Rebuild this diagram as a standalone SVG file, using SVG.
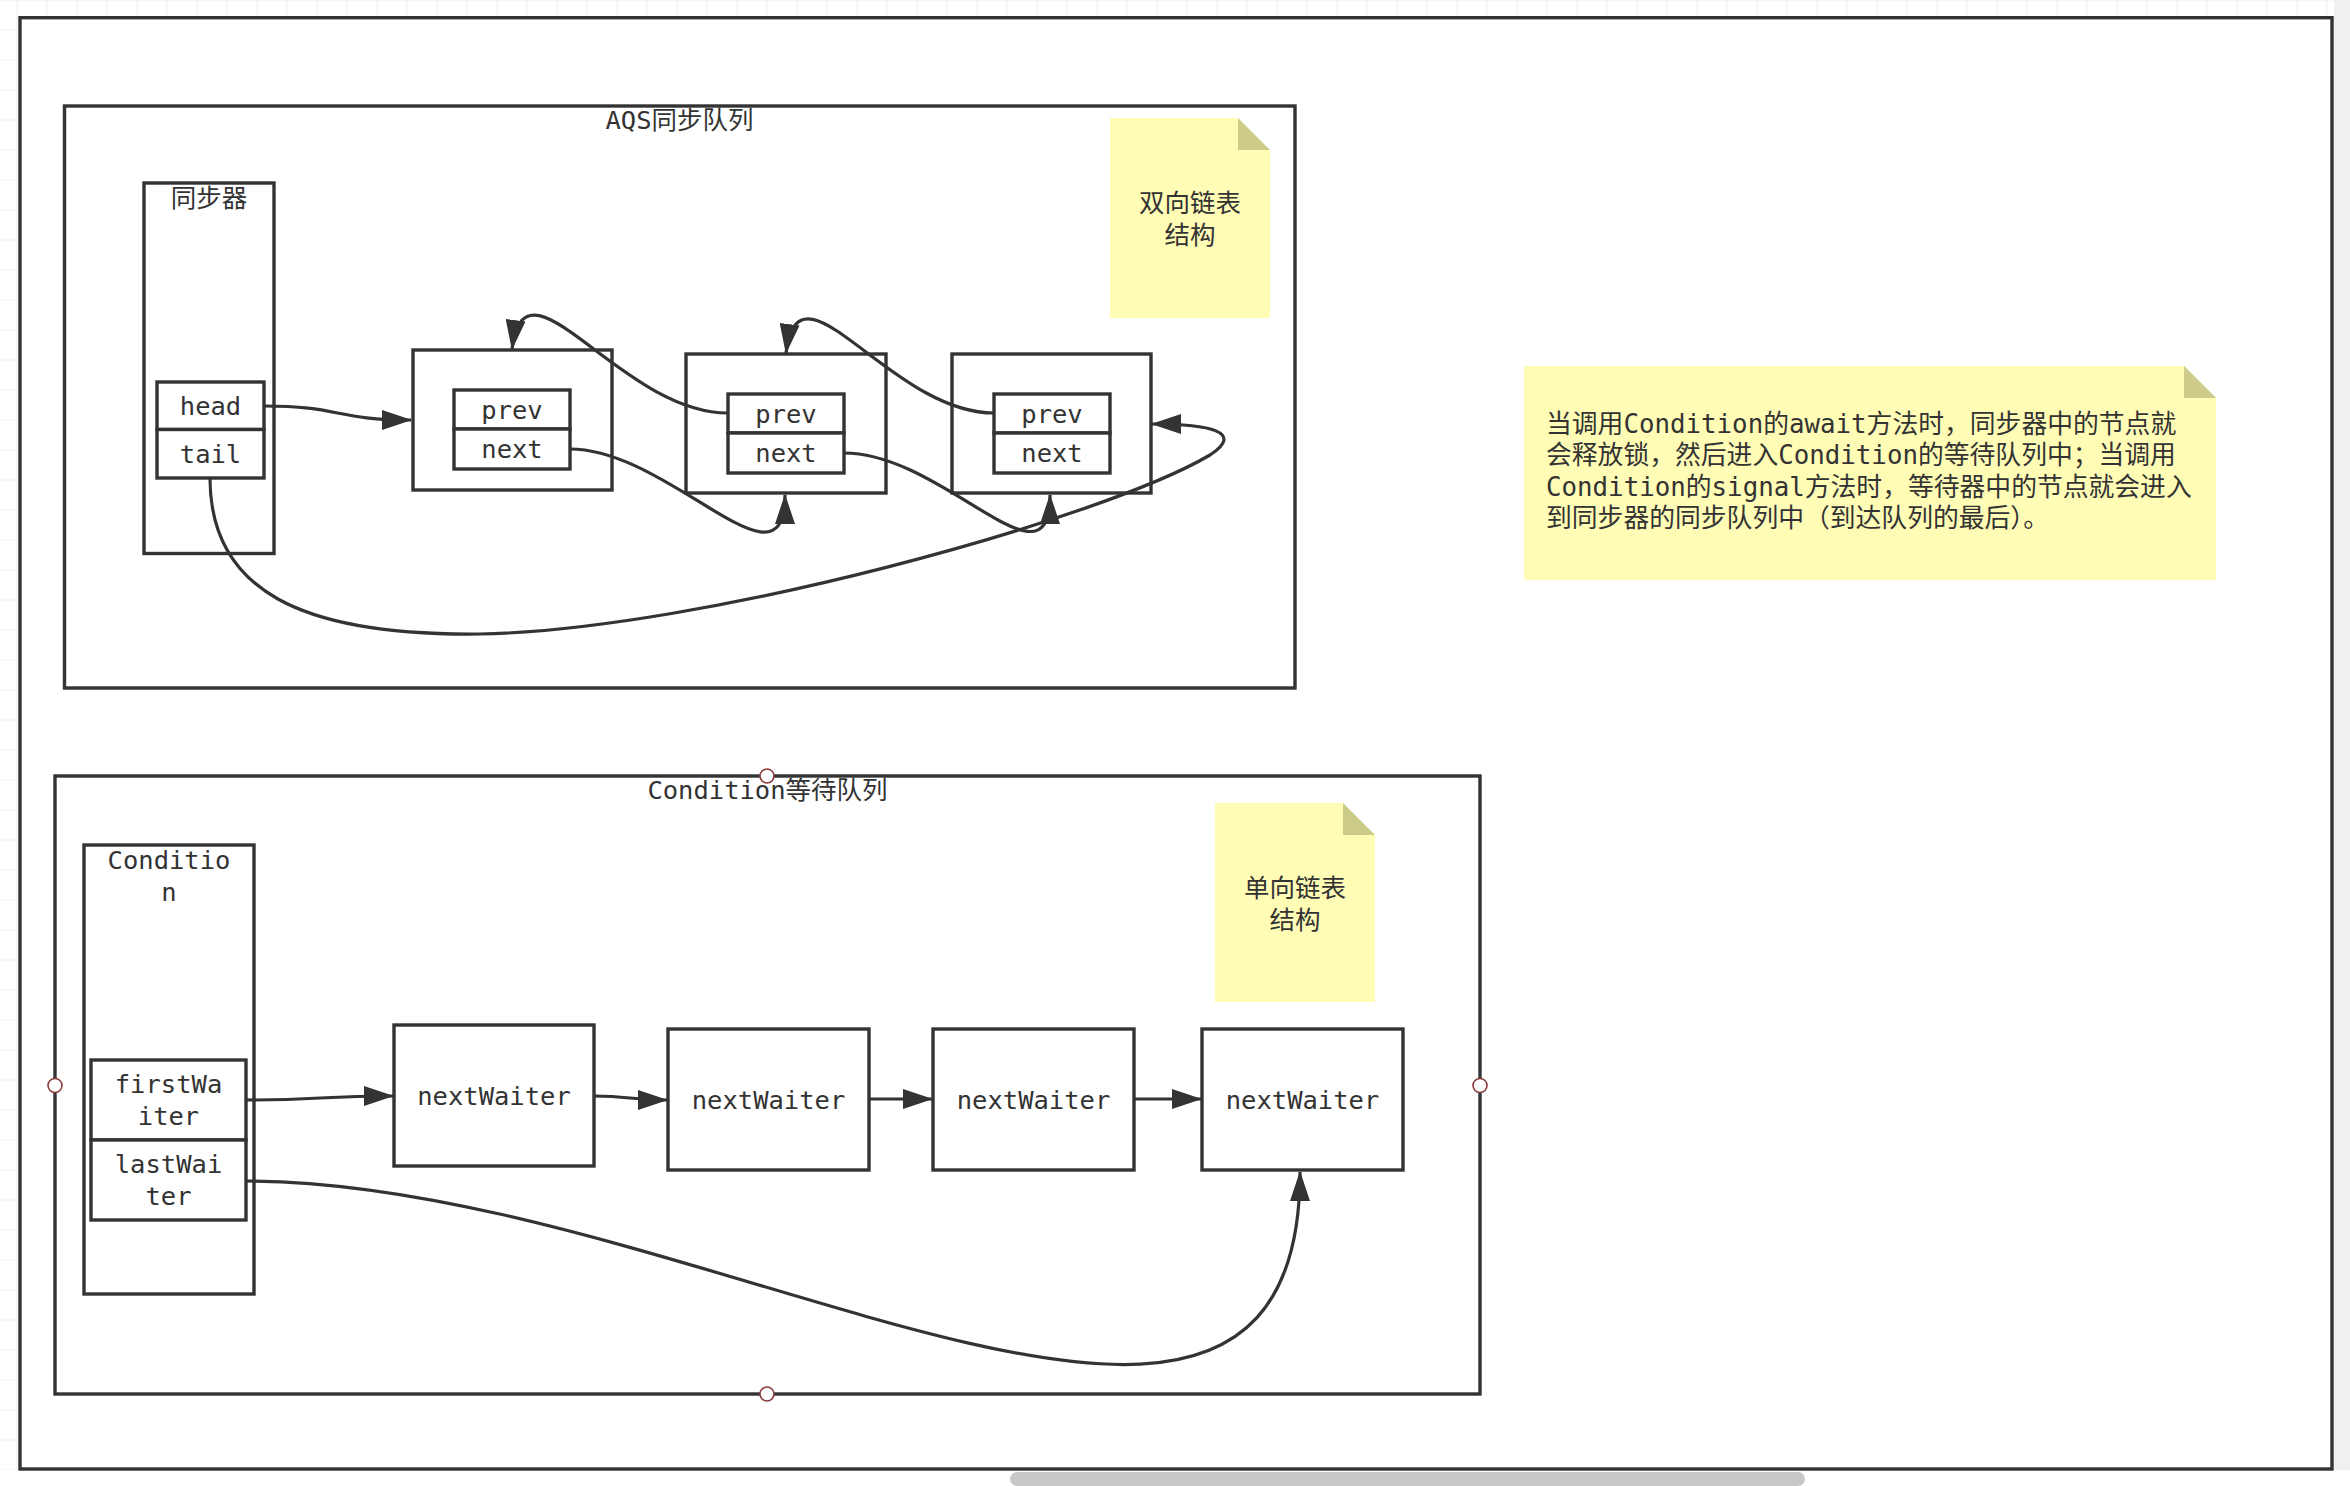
<svg xmlns="http://www.w3.org/2000/svg" width="2350" height="1486" viewBox="0 0 2350 1486">
<style>
.box{fill:#ffffff;stroke:#333333;stroke-width:3.4}
.frame{fill:none;stroke:#333333;stroke-width:3.4}
.t{font-family:"DejaVu Sans Mono","Noto Sans CJK SC",monospace;font-size:25.5px;fill:#333333}
.nt{font-size:25.8px}
.c{text-anchor:middle}
.note{fill:#fffcb6}
.fold{fill:#cccb89}
.conn{fill:none;stroke:#333333;stroke-width:3.2}
.handle{fill:#ffffff;stroke:#8b3a3a;stroke-width:1.6}
</style>
<defs>
<pattern id="grid" patternUnits="userSpaceOnUse" x="16.5" y="29.5" width="30" height="30">
<path d="M0,0 L30,0 M0,0 L0,30" stroke="#eeeeee" stroke-width="2" fill="none"/>
</pattern>
<marker id="arr" markerUnits="userSpaceOnUse" viewBox="0 0 30 20" markerWidth="30" markerHeight="20" refX="29" refY="10" orient="auto">
<path d="M0,0 L30,10 L0,20 Z" fill="#333333"/>
</marker>
</defs>
<rect x="0" y="0" width="2350" height="1486" fill="#ffffff"/>
<rect x="0" y="0" width="2334" height="1470" fill="url(#grid)"/>
<rect x="2334" y="0" width="16" height="1470" fill="#f0f0f0"/>
<rect x="1010" y="1472" width="795" height="14" rx="7" fill="#c8c8c8"/>

<g id="canvas-frame">
<rect x="20" y="17.7" width="2312" height="1451.3" fill="#ffffff" stroke="#333333" stroke-width="3.4"/>
</g>

<g id="aqs-queue">
<rect class="frame" x="64.5" y="106" width="1230.5" height="582"/>
<text class="t c" x="679.5" y="129">AQS同步队列</text>
</g>

<g id="synchronizer">
<rect class="box" x="144" y="183" width="130" height="370.5"/>
<text class="t c" x="209" y="206.5">同步器</text>
</g>
<g id="head">
<rect class="box" x="157" y="382" width="107" height="47.5"/>
<text class="t c" x="210.5" y="415">head</text>
</g>
<g id="tail">
<rect class="box" x="157" y="429.5" width="107" height="48.5"/>
<text class="t c" x="210.5" y="463">tail</text>
</g>

<g id="node1">
<rect class="box" x="413" y="350" width="199" height="140"/>
<rect class="box" x="454" y="390" width="116" height="39"/>
<text class="t c" x="512" y="418.5">prev</text>
<rect class="box" x="454" y="429" width="116" height="40"/>
<text class="t c" x="512" y="458">next</text>
</g>
<g id="node2">
<rect class="box" x="686" y="354" width="200" height="139"/>
<rect class="box" x="728" y="394" width="116" height="39"/>
<text class="t c" x="786" y="422.5">prev</text>
<rect class="box" x="728" y="433" width="116" height="40"/>
<text class="t c" x="786" y="462">next</text>
</g>
<g id="node3">
<rect class="box" x="952" y="354" width="199" height="139"/>
<rect class="box" x="994" y="394" width="116" height="39"/>
<text class="t c" x="1052" y="422.5">prev</text>
<rect class="box" x="994" y="433" width="116" height="40"/>
<text class="t c" x="1052" y="462">next</text>
</g>

<g id="note-doubly">
<path class="note" d="M1110,118 L1238,118 L1270,150 L1270,318 L1110,318 Z"/>
<path class="fold" d="M1238,118 L1238,150 L1270,150 Z"/>
<text class="t c" x="1190" y="212">双向链表</text>
<text class="t c" x="1190" y="243.5">结构</text>
</g>

<g id="note-explain">
<path class="note" d="M1524,366 L2184,366 L2216,398 L2216,580 L1524,580 Z"/>
<path class="fold" d="M2184,366 L2184,398 L2216,398 Z"/>
<text class="t nt" x="1546" y="432.5">当调用Condition的await方法时，同步器中的节点就</text>
<text class="t nt" x="1546" y="464">会释放锁，然后进入Condition的等待队列中；当调用</text>
<text class="t nt" x="1546" y="495.5">Condition的signal方法时，等待器中的节点就会进入</text>
<text class="t nt" x="1546" y="527">到同步器的同步队列中（到达队列的最后）。</text>
</g>

<g id="condition-queue">
<rect class="frame" x="55" y="776" width="1425" height="618"/>
<text class="t c" x="767.5" y="799">Condition等待队列</text>
</g>

<g id="note-singly">
<path class="note" d="M1215,803 L1343,803 L1375,835 L1375,1002 L1215,1002 Z"/>
<path class="fold" d="M1343,803 L1343,835 L1375,835 Z"/>
<text class="t c" x="1295" y="897">单向链表</text>
<text class="t c" x="1295" y="928.5">结构</text>
</g>

<g id="condition">
<rect class="box" x="84" y="845" width="170" height="449"/>
<text class="t c" x="169" y="869">Conditio</text>
<text class="t c" x="169" y="900.5">n</text>
</g>
<g id="firstWaiter">
<rect class="box" x="91" y="1060" width="155" height="80"/>
<text class="t c" x="168.5" y="1093">firstWa</text>
<text class="t c" x="168.5" y="1124.5">iter</text>
</g>
<g id="lastWaiter">
<rect class="box" x="91" y="1140" width="155" height="80"/>
<text class="t c" x="168.5" y="1173">lastWai</text>
<text class="t c" x="168.5" y="1204.5">ter</text>
</g>

<g id="waiter1">
<rect class="box" x="394" y="1025" width="200" height="141"/>
<text class="t c" x="494" y="1104.5">nextWaiter</text>
</g>
<g id="waiter2">
<rect class="box" x="668" y="1029" width="201" height="141"/>
<text class="t c" x="768.5" y="1108.5">nextWaiter</text>
</g>
<g id="waiter3">
<rect class="box" x="933" y="1029" width="201" height="141"/>
<text class="t c" x="1033.5" y="1108.5">nextWaiter</text>
</g>
<g id="waiter4">
<rect class="box" x="1202" y="1029" width="201" height="141"/>
<text class="t c" x="1302.5" y="1108.5">nextWaiter</text>
</g>

<g id="connectors">
<path class="conn" marker-end="url(#arr)" d="M264,406 C340,406 335,420 411,420"/>
<path class="conn" marker-end="url(#arr)" d="M728,413 C620,413 525,245 512,349"/>
<path class="conn" marker-end="url(#arr)" d="M994,413 C890,413 799,250 786,353"/>
<path class="conn" marker-end="url(#arr)" d="M570,449 C670,449 785,600 785,495"/>
<path class="conn" marker-end="url(#arr)" d="M844,453 C944,453 1050,597 1050,495"/>
<path class="conn" marker-end="url(#arr)" d="M210,478 C210,590 300,636 480,634 C700,630 1100,520 1210,455 C1245,432 1210,424 1152,424"/>
<path class="conn" marker-end="url(#arr)" d="M246,1100 C320,1100 320,1096 393,1096"/>
<path class="conn" marker-end="url(#arr)" d="M594,1096 C630,1096 630,1100 667,1100"/>
<path class="conn" marker-end="url(#arr)" d="M869,1099 L932,1099"/>
<path class="conn" marker-end="url(#arr)" d="M1134,1099 L1201,1099"/>
<path class="conn" marker-end="url(#arr)" d="M246,1181 C700,1181 1300,1600 1300,1172"/>
</g>

<g id="handles">
<circle class="handle" cx="767" cy="776" r="7"/>
<circle class="handle" cx="55" cy="1085.5" r="7"/>
<circle class="handle" cx="1480" cy="1085.5" r="7"/>
<circle class="handle" cx="767" cy="1394" r="7"/>
</g>
</svg>
